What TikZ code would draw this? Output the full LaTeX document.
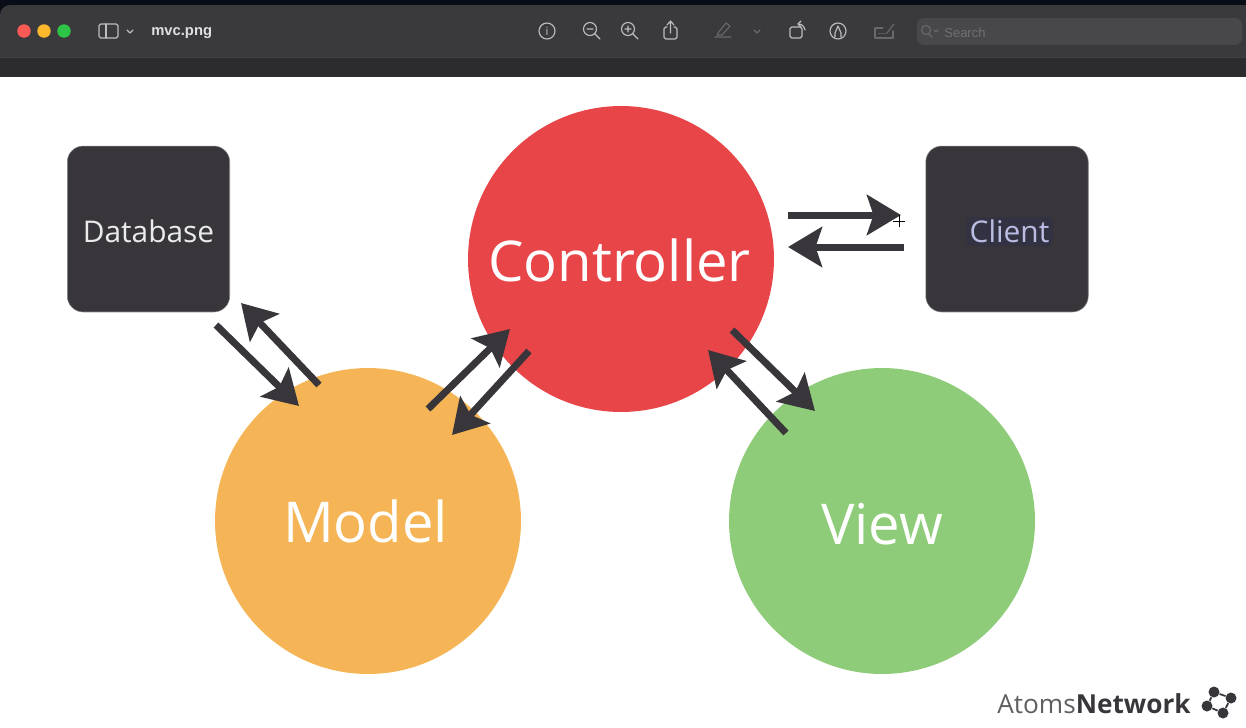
\documentclass[tikz,border=0pt]{standalone}
\usepackage{fontspec}
\setmainfont{Open Sans}
\newfontfamily\barfont{Liberation Sans}
\usetikzlibrary{arrows.meta}
\definecolor{hblack}{RGB}{9,13,24}
\definecolor{hbar}{RGB}{58,57,60}
\definecolor{hstrip}{RGB}{44,43,45}
\definecolor{hbox}{RGB}{56,54,58}
\definecolor{hred}{RGB}{232,69,73}
\definecolor{horange}{RGB}{245,181,86}
\definecolor{hgreen}{RGB}{142,204,122}
\definecolor{harrow}{RGB}{56,54,58}
\definecolor{hicon}{RGB}{190,190,192}
\definecolor{hdim}{RGB}{105,104,107}
\definecolor{hlav}{RGB}{186,188,226}
\definecolor{hhalo}{RGB}{50,50,66}
\definecolor{hsearch}{RGB}{72,71,74}
\tikzset{
  blob/.style={circle,draw=none,inner sep=0pt,minimum size=6.12cm},
  blobtext/.style={inner sep=0pt,text=white,font=\fontsize{32}{36}\selectfont},
  store/.style={rectangle,rounded corners=0.32cm,draw=hicon!60!hbox,line width=0.3pt,fill=hbox,inner sep=0pt,minimum width=3.25cm,minimum height=3.32cm},
  storetext/.style={inner sep=0pt,text=white!92!black,font=\fontsize{17}{20}\selectfont},
  flow/.style={draw=harrow,line width=0.14cm,-{Stealth[length=0.68cm,width=0.8cm,inset=0.13cm]}},
  icon/.style={draw=hicon,line width=0.65pt,line cap=round,line join=round},
  dimicon/.style={draw=hdim,line width=0.65pt,line cap=round,line join=round},
  light/.style={circle,inner sep=0pt,minimum size=0.27cm},
  atom/.style={circle,fill=harrow,inner sep=0pt,minimum size=0.22cm}
}
\begin{document}
\begin{tikzpicture}[x=0.02cm,y=-0.02cm]
\useasboundingbox (0,0) rectangle (1246,727);
% window bar
\fill[hblack] (0,0) rectangle (1246,20);
\fill[hbar,rounded corners=0.2cm] (0,40) -- (0,5) -- (1260,5) -- (1260,40) -- cycle;
\fill[hbar] (0,30) rectangle (1246,58);
\fill[hstrip] (0,58) rectangle (1246,76.5);
\draw[black!75,line width=0.4pt] (0,57.5) -- (1246,57.5);
\node[light,fill={rgb,255:red,250;green,90;blue,85}] (lclose) at (24,31) {};
\node[light,fill={rgb,255:red,252;green,185;blue,45}] (lmin) at (44,31) {};
\node[light,fill={rgb,255:red,45;green,195;blue,70}] (lmax) at (64,31) {};
\draw[icon,rounded corners=1pt] (99,24) rectangle (118,38);
\draw[icon] (106,24) -- (106,38);
\draw[icon] (127,30) -- (130,33) -- (133,30);
\node[text=white!88!black,font=\barfont\bfseries\fontsize{8.4}{10}\selectfont,anchor=west,inner sep=0pt] (title) at (151,33) {mvc.png};
% toolbar icons
\draw[icon] (547,31) circle (8);
\node[text=hicon,font=\fontsize{6.5}{7}\selectfont,inner sep=0pt] (info) at (547,31) {i};
\draw[icon] (590,29) circle (6.5) (595,34) -- (600,39) (587,29) -- (593,29);
\draw[icon] (628,29) circle (6.5) (633,34) -- (638,39) (625,29) -- (631,29) (628,26) -- (628,32);
\draw[icon,rounded corners=1pt] (667,27) -- (664,27) -- (664,39) -- (677,39) -- (677,27) -- (674,27);
\draw[icon] (670.5,33) -- (670.5,21) (667,25) -- (670.5,21) -- (674,25);
\draw[dimicon] (715,37) -- (731,37) (718,33) -- (726,23) -- (730,26) -- (722,35) -- (717,35) -- cycle;
\draw[dimicon] (754,30) -- (757,33) -- (760,30);
\draw[icon,rounded corners=1pt] (790,27) rectangle (802,38);
\draw[icon] (798,24) .. controls (802,24) and (804,26) .. (805,30);
\draw[icon] (801,21) -- (798,24) -- (801,27);
\draw[icon] (838,31) circle (8);
\draw[icon] (835,37) -- (835,33) -- (838,26) -- (841,33) -- (841,37);
\draw[dimicon] (875,28) -- (875,38) -- (893,38) -- (893,31) (883,28) -- (875,28);
\draw[dimicon] (887,33) -- (894,24);
\draw[dimicon] (879,33.5) -- (880,33.5) (882,33.5) -- (883,33.5) (885,33.5) -- (886,33.5);
% search
\fill[rounded corners=4pt,fill=hsearch] (917,18) rectangle (1242,45);
\draw[dimicon] (926,30) circle (4.5) (929,34) -- (932,37) (934,30) -- (936,32) -- (938,30);
\node[text=hdim!95!white,font=\barfont\fontsize{7.4}{9}\selectfont,anchor=west,inner sep=0pt] (search) at (944,33) {Search};
% diagram
\node[store] (database) at (148.5,229) {};
\node[store] (client) at (1007,229) {};
\fill[hhalo,rounded corners=3pt] (966,217) rectangle (1053,246);
\node[storetext] (dbtext) at (148.5,231) {Database};
\node[storetext,text=hlav] (cltext) at (1009.5,231) {Client};
\node[blob,fill=hred] (controller) at (621,259) {};
\node[blob,fill=horange] (model) at (368,521) {};
\node[blob,fill=hgreen] (view) at (882,521) {};
\node[blobtext] (controllertext) at (619.5,260) {Controller};
\node[blobtext] (modeltext) at (365.5,521) {Model};
\node[blobtext] (viewtext) at (882,524) {View};
\coordinate (cc1) at (788,215);
\coordinate (cc2) at (901,215);
\coordinate (cc3) at (904,247);
\coordinate (cc4) at (788,247);
\coordinate (dm1) at (216,325);
\coordinate (dm2) at (299,406);
\coordinate (dm3) at (319,385);
\coordinate (dm4) at (241,303);
\coordinate (mc1) at (428,409);
\coordinate (mc2) at (510,329);
\coordinate (mc3) at (529,351);
\coordinate (mc4) at (452,435);
\coordinate (cv1) at (732,330);
\coordinate (cv2) at (815,411);
\coordinate (cv3) at (786,433);
\coordinate (cv4) at (708,350);
\draw[flow] (cc1) -- (cc2);
\draw[flow] (cc3) -- (cc4);
\draw[flow] (dm1) -- (dm2);
\draw[flow] (dm3) -- (dm4);
\draw[flow] (mc1) -- (mc2);
\draw[flow] (mc3) -- (mc4);
\draw[flow] (cv1) -- (cv2);
\draw[flow] (cv3) -- (cv4);
% pointer
\draw[black,line width=0.5pt] (893,221) -- (905,221) (899,215) -- (899,227);
% logo
\node[anchor=east,inner sep=0pt,text=harrow,font=\fontsize{14.9}{18}\selectfont] (brand) at (1191,704) {\textcolor{harrow!80!white}{Atoms}\textbf{Network}};
\node[atom] (a1) at (1214,692) {};
\node[atom] (a2) at (1231,698) {};
\node[atom] (a3) at (1223,713) {};
\node[atom] (a4) at (1207,706) {};
\draw[harrow,line width=1pt] (a1) -- (a2) -- (a3) -- (a4) -- (a1);
\end{tikzpicture}
\end{document}
